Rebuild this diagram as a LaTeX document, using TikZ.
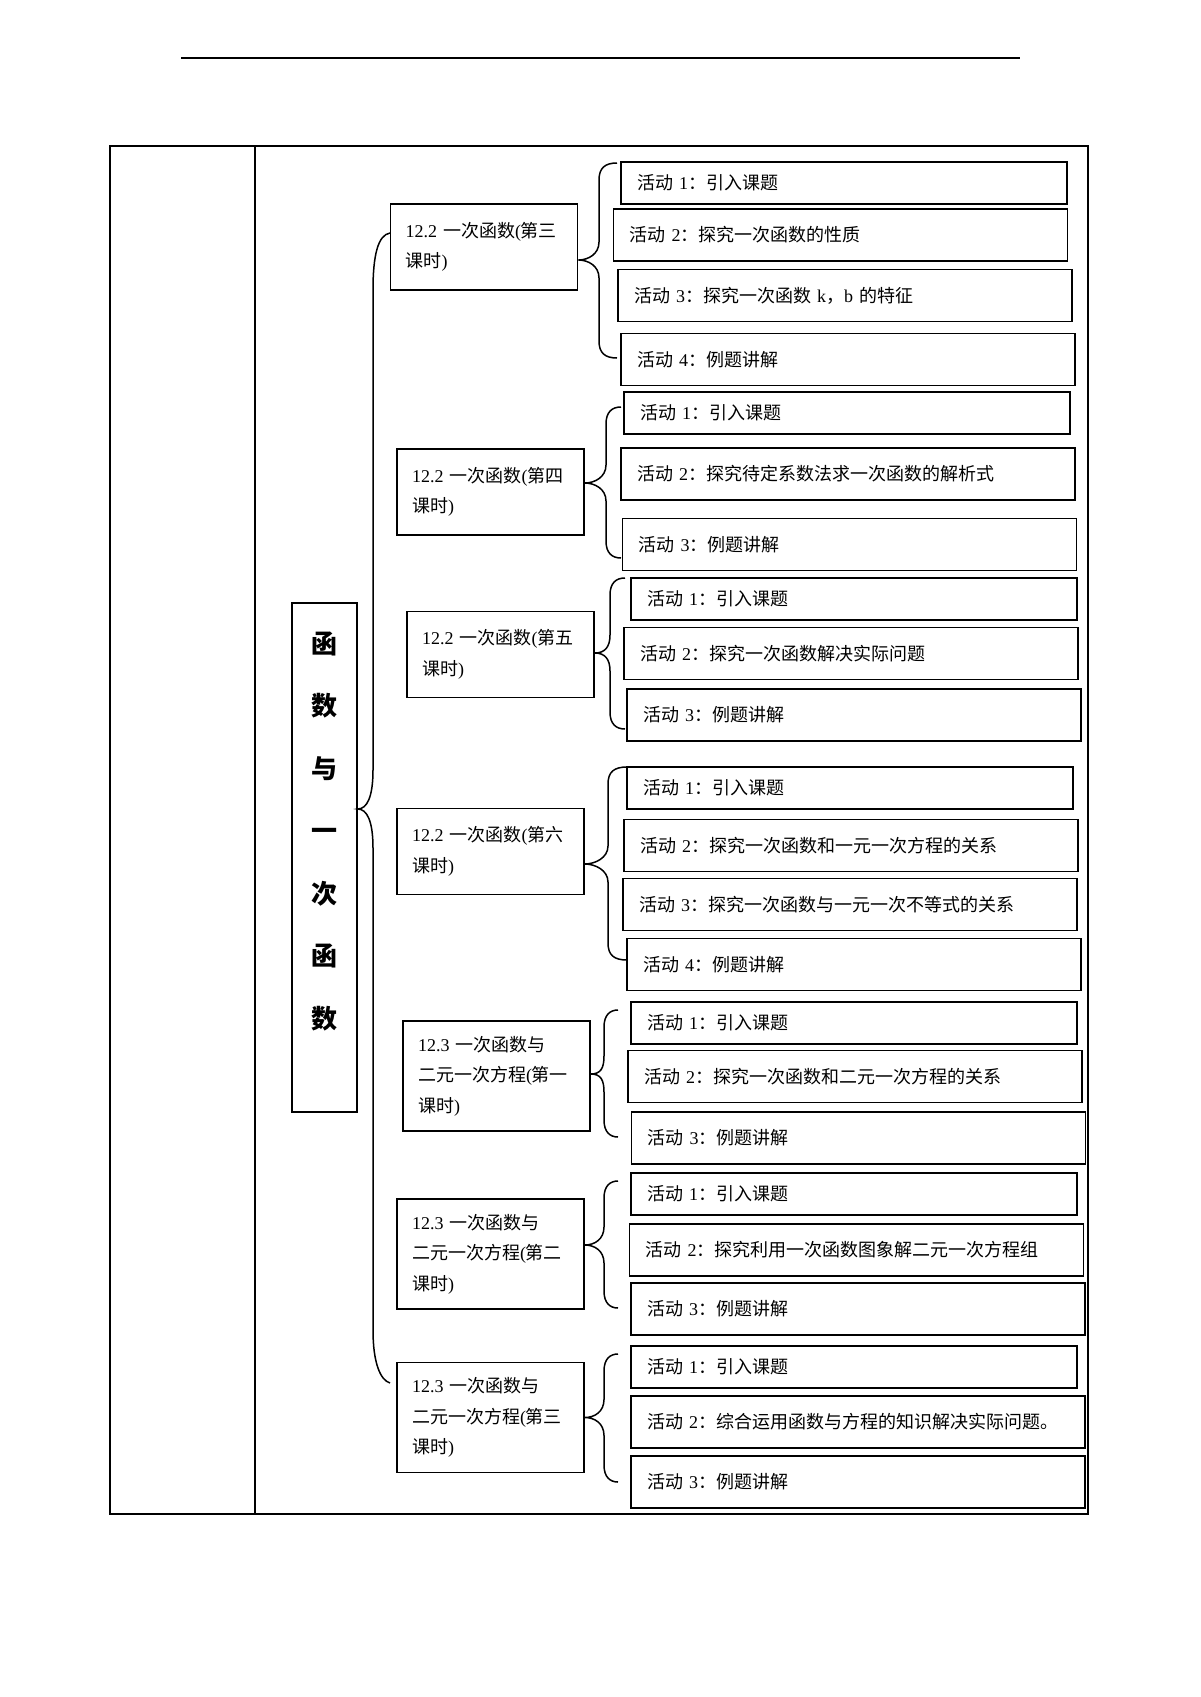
\documentclass[tikz,border=0pt]{standalone}
\usepackage{fontspec}
\setmainfont{Noto Sans CJK SC}
\newfontfamily\lat{Liberation Serif}
\usetikzlibrary{calc}
\newcommand{\grpbrace}[4]{%
  \draw[bracel] let \p1=(#1), \p2=(#2), \p3=(#3) in
    (\p2) .. controls (#4pt+6pt,\y2) and (#4pt,\y2-5pt) .. (#4pt,\y2-17pt)
    -- (#4pt,\y1+18pt) .. controls (#4pt,\y1+6pt) and (\x1+10pt,\y1) .. (\p1)
    .. controls (\x1+10pt,\y1) and (#4pt,\y1-6pt) .. (#4pt,\y1-18pt)
    -- (#4pt,\y3+17pt) .. controls (#4pt,\y3+5pt) and (#4pt+6pt,\y3) .. (\p3);}

\begin{document}
\begin{tikzpicture}[x=1pt,y=-1pt,
    boxline/.style={draw,line width=1.7pt},
    lesson/.style={boxline,inner xsep=15pt,text width=157pt,align=left,font=\fontsize{18}{30.5}\selectfont},
    lessontwo/.style={lesson,minimum height=86pt},
    lessonthree/.style={lesson,minimum height=110pt},
    act/.style={boxline,inner xsep=16pt,text width=422pt,minimum height=52pt,align=left,font=\fontsize{18}{22}\selectfont},
    actshort/.style={act,text width=414pt,minimum height=42pt},
    bracel/.style={line width=1.5pt},
    tableline/.style={line width=1.3pt}]
    \path[use as bounding box,fill=white] (0,0) rectangle (1200,1697);
    \draw[line width=2.4pt] (181,58) -- (1020,58);
    \draw[tableline] (110,146) rectangle (1088,1514);
    \draw[tableline] (255,146) -- (255,1514);

    \node[boxline,line width=1.5pt,minimum width=65pt,minimum height=509pt] (topic) at (324.5,857.5) {};
    \node[font=\fontsize{26}{62.5}\selectfont\bfseries,align=center] (topictext) at (324.5,831.5) {函\\数\\与\\一\\次\\函\\数};

    \node[lessontwo] (k3) at (484,247) {{\lat 12.2}~一次函数{\lat (}第三\\课时{\lat )}};
    \node[lessontwo] (k4) at (490.5,492) {{\lat 12.2}~一次函数{\lat (}第四\\课时{\lat )}};
    \node[lessontwo] (k5) at (500.5,654.5) {{\lat 12.2}~一次函数{\lat (}第五\\课时{\lat )}};
    \node[lessontwo] (k6) at (490.5,851.5) {{\lat 12.2}~一次函数{\lat (}第六\\课时{\lat )}};
    \node[lessonthree] (e1) at (496.5,1076) {{\lat 12.3}~一次函数与\\二元一次方程{\lat (}第一\\课时{\lat )}};
    \node[lessonthree] (e2) at (490.5,1254) {{\lat 12.3}~一次函数与\\二元一次方程{\lat (}第二\\课时{\lat )}};
    \node[lessonthree] (e3) at (490.5,1417.5) {{\lat 12.3}~一次函数与\\二元一次方程{\lat (}第三\\课时{\lat )}};

    \node[actshort] (k3a1) at (844,183) {活动 {\lat 1}：引入课题};
    \node[act] (k3a2) at (840.5,235) {活动 {\lat 2}：探究一次函数的性质};
    \node[act] (k3a3) at (845,295.5) {活动 {\lat 3}：探究一次函数 {\lat k}，{\lat b} 的特征};
    \node[act] (k3a4) at (848,359.5) {活动 {\lat 4}：例题讲解};

    \node[actshort] (k4a1) at (847,413) {活动 {\lat 1}：引入课题};
    \node[act] (k4a2) at (848,474) {活动 {\lat 2}：探究待定系数法求一次函数的解析式};
    \node[act] (k4a3) at (849.5,544.5) {活动 {\lat 3}：例题讲解};

    \node[actshort] (k5a1) at (854,599) {活动 {\lat 1}：引入课题};
    \node[act] (k5a2) at (851,653.5) {活动 {\lat 2}：探究一次函数解决实际问题};
    \node[act] (k5a3) at (854,715) {活动 {\lat 3}：例题讲解};

    \node[actshort] (k6a1) at (850,788) {活动 {\lat 1}：引入课题};
    \node[act] (k6a2) at (851,845.5) {活动 {\lat 2}：探究一次函数和一元一次方程的关系};
    \node[act] (k6a3) at (850,904.5) {活动 {\lat 3}：探究一次函数与一元一次不等式的关系};
    \node[act] (k6a4) at (854,964.5) {活动 {\lat 4}：例题讲解};

    \node[actshort] (e1a1) at (854,1023) {活动 {\lat 1}：引入课题};
    \node[act] (e1a2) at (855,1076.5) {活动 {\lat 2}：探究一次函数和二元一次方程的关系};
    \node[act] (e1a3) at (858.5,1138) {活动 {\lat 3}：例题讲解};

    \node[actshort] (e2a1) at (854,1194) {活动 {\lat 1}：引入课题};
    \node[act] (e2a2) at (856.5,1250) {活动 {\lat 2}：探究利用一次函数图象解二元一次方程组};
    \node[act] (e2a3) at (858,1309) {活动 {\lat 3}：例题讲解};

    \node[actshort] (e3a1) at (854,1367) {活动 {\lat 1}：引入课题};
    \node[act] (e3a2) at (858,1422) {活动 {\lat 2}：综合运用函数与方程的知识解决实际问题。};
    \node[act] (e3a3) at (858,1482) {活动 {\lat 3}：例题讲解};

    \coordinate (mtop) at (390,233);
    \coordinate (mbot) at (390,1383);
    \draw[bracel] (mtop) .. controls (378,235) and (373,255) .. (373,290) -- (373,770)
      .. controls (373,797) and (367,809) .. ([yshift=48.5pt]topic.east)
      .. controls (367,809) and (373,821) .. (373,848) -- (373,1330)
      .. controls (373,1362) and (380,1380) .. (mbot);

    \coordinate (k3top) at (617,163);   \coordinate (k3bot) at (617,358);
    \coordinate (k4top) at (621,407);   \coordinate (k4bot) at (621,558);
    \coordinate (k5top) at (625,578);   \coordinate (k5bot) at (625,729);
    \coordinate (k6top) at (627,767);   \coordinate (k6bot) at (627,960);
    \coordinate (e1top) at (618,1010);  \coordinate (e1bot) at (618,1137);
    \coordinate (e2top) at (618,1181);  \coordinate (e2bot) at (618,1308);
    \coordinate (e3top) at (618,1354);  \coordinate (e3bot) at (618,1482);
    \grpbrace{[yshift=-13pt]k3.east}{k3top}{k3bot}{599}
    \grpbrace{[yshift=9pt]k4.east}{k4top}{k4bot}{606}
    \grpbrace{[yshift=1.5pt]k5.east}{k5top}{k5bot}{610}
    \grpbrace{[yshift=-12.5pt]k6.east}{k6top}{k6bot}{608}
    \grpbrace{[yshift=2pt]e1.east}{e1top}{e1bot}{604}
    \grpbrace{[yshift=9pt]e2.east}{e2top}{e2bot}{604}
    \grpbrace{e3.east}{e3top}{e3bot}{604}
  \end{tikzpicture}
\end{document}
